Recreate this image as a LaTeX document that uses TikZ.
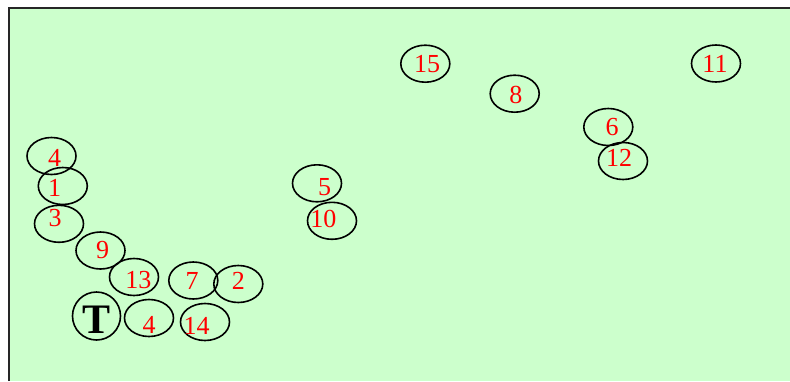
\documentclass[tikz,border=0pt]{standalone}
\usepackage{fontspec}
\setmainfont{Liberation Serif}
\usetikzlibrary{shapes.geometric}
\definecolor{bggreen}{HTML}{CCFFCC}
\tikzset{
  oval/.style={draw=black, line width=1.6pt, ellipse, minimum width=49pt, minimum height=37pt, inner sep=0pt},
  num/.style={text=red, font=\fontsize{26}{26}\selectfont, inner sep=0pt, anchor=center},
}
\begin{document}
\begin{tikzpicture}[x=1pt,y=-1pt]
\useasboundingbox (0,0) rectangle (790,381);
\fill[bggreen] (9,8) rectangle (790,381);
\draw[line width=2pt, black!85] (9,381) -- (9,8) -- (790,8);
% ellipses
\node[oval] (e15) at (425.3,63.7) {};
\node[oval] (e8) at (514.7,93.7) {};
\node[oval] (e11) at (716,63.5) {};
\node[oval] (e6) at (608.3,127) {};
\node[oval] (e12) at (623,161) {};
\node[oval] (e5) at (317,183.3) {};
\node[oval] (e10) at (332,220.8) {};
\node[oval] (e4a) at (51.5,156) {};
\node[oval] (e1) at (62.8,186) {};
\node[oval] (e3) at (59,223.8) {};
\node[oval] (e9) at (100.5,250.5) {};
\node[oval] (e13) at (134,277) {};
\node[oval] (e7) at (193.3,280.5) {};
\node[oval] (e2) at (238.3,284) {};
\node[oval] (e4b) at (149,318) {};
\node[oval] (e14) at (205,322) {};
\node[draw=black, line width=1.6pt, circle, minimum size=48pt, inner sep=0pt] (eT) at (96.5,316) {};
% labels
\node[num] (t15) at (427,64) {15};
\node[num] (t8) at (515.8,95) {8};
\node[num] (t11) at (715,64) {11};
\node[num] (t6) at (612,126.7) {6};
\node[num] (t12) at (619,157.5) {12};
\node[num] (t5) at (324.7,187.5) {5};
\node[num] (t10) at (323.3,219) {10};
\node[num] (t4a) at (54.5,157.5) {4};
\node[num] (t1) at (54.7,187.5) {1};
\node[num] (t3) at (55,218) {3};
\node[num] (t9) at (102.5,249.7) {9};
\node[num] (t13) at (138.3,280.5) {13};
\node[num] (t7) at (192,281) {7};
\node[num] (t2) at (238.3,280.5) {2};
\node[num] (t4b) at (149,325) {4};
\node[num] (t14) at (196.7,325.5) {14};
\node[inner sep=0pt, font=\fontsize{42}{42}\selectfont\bfseries] (tT) at (96.7,320) {T};
\end{tikzpicture}
\end{document}
